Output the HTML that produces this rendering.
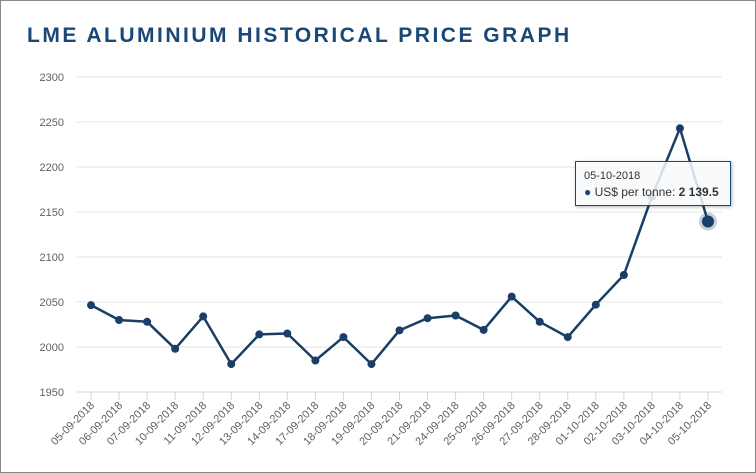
<!DOCTYPE html>
<html><head><meta charset="utf-8"><style>
body{margin:0;background:#fff;}
#wrap{position:relative;width:754px;height:471px;border:1px solid #888;box-shadow:1px 1px 2px #999;overflow:hidden;font-family:"Liberation Sans",sans-serif;}
#title{position:absolute;left:26px;top:23px;font-size:21px;font-weight:bold;color:#1a4876;letter-spacing:2.5px;margin:0;}
svg{position:absolute;left:0;top:0;}
#tip{position:absolute;left:574px;top:160px;width:154px;height:43px;background:rgba(248,249,250,0.85);border:1px solid #1a4876;box-shadow:1px 1px 3px rgba(0,0,0,.3);font-size:12px;color:#333;}
</style></head><body>
<div id="wrap">
<h1 id="title">LME ALUMINIUM HISTORICAL PRICE GRAPH</h1>
<svg id="chart" width="756" height="473"></svg>
<div id="tip">
<div style="position:absolute;left:8px;top:8px;font-size:11px;">05-10-2018</div>
<div style="position:absolute;left:8px;top:23px;"><span style="color:#1a4876">●</span> US$ per tonne: <b>2 139.5</b></div>
</div>
</div>
<script>
const categories=["05-09-2018","06-09-2018","07-09-2018","10-09-2018","11-09-2018","12-09-2018","13-09-2018","14-09-2018","17-09-2018","18-09-2018","19-09-2018","20-09-2018","21-09-2018","24-09-2018","25-09-2018","26-09-2018","27-09-2018","28-09-2018","01-10-2018","02-10-2018","03-10-2018","04-10-2018","05-10-2018"];
const values=[2046.5,2030,2028,1998,2034,1981,2014,2015,1985,2011,1981,2018.5,2032,2035,2019,2056,2028,2011,2047,2080,2167,2243,2139.5];
const yTicks=[1950,2000,2050,2100,2150,2200,2250,2300];
const NS="http://www.w3.org/2000/svg";
const svg=document.getElementById('chart');
const x0=76,x1=721,yTop=76,yBot=391,yMin=1950,yMax=2300;
const step=(x1-x0)/categories.length;
const xs=i=>x0+step*(i+0.5);
const ys=v=>yBot-(v-yMin)/(yMax-yMin)*(yBot-yTop);
function mk(t,a){const e=document.createElementNS(NS,t);for(const k in a)e.setAttribute(k,a[k]);svg.appendChild(e);return e;}
yTicks.forEach(t=>{
 const g=mk('line',{x1:x0,x2:x1,y1:ys(t),y2:ys(t),stroke:t===yMin?'#ccd6eb':'#e6e6e6','stroke-width':1});
 
 
 const l=mk('text',{x:63,y:ys(t)+4,'text-anchor':'end','font-size':11,fill:'#606060','font-family':'Liberation Sans, sans-serif'});
 l.textContent=t;
 
 
});
categories.forEach((c,i)=>{
 const tk=mk('line',{x1:xs(i),x2:xs(i),y1:yBot,y2:yBot+8,stroke:'#ccd6eb'});
 
 
 const x=xs(i)+4,y=yBot+14;
 const l=mk('text',{x:x,y:y,'text-anchor':'end','font-size':11,fill:'#606060','font-family':'Liberation Sans, sans-serif',transform:`rotate(-45 ${x} ${y})`});
 l.textContent=c;
 
 
});
const p=mk('polyline',{points:values.map((v,i)=>xs(i)+','+ys(v)).join(' '),fill:'none',stroke:'#1a3e66','stroke-width':2.5,'stroke-linejoin':'round'});


values.forEach((v,i)=>{
 const last=i===values.length-1;
 if(last){const h=mk('circle',{cx:xs(i),cy:ys(v),r:9,fill:'#1a3e66','fill-opacity':0.25});
 
 }
 const c=mk('circle',{cx:xs(i),cy:ys(v),r:last?6:4,fill:'#1a3e66'});
 
 
});
</script>
</body></html>
